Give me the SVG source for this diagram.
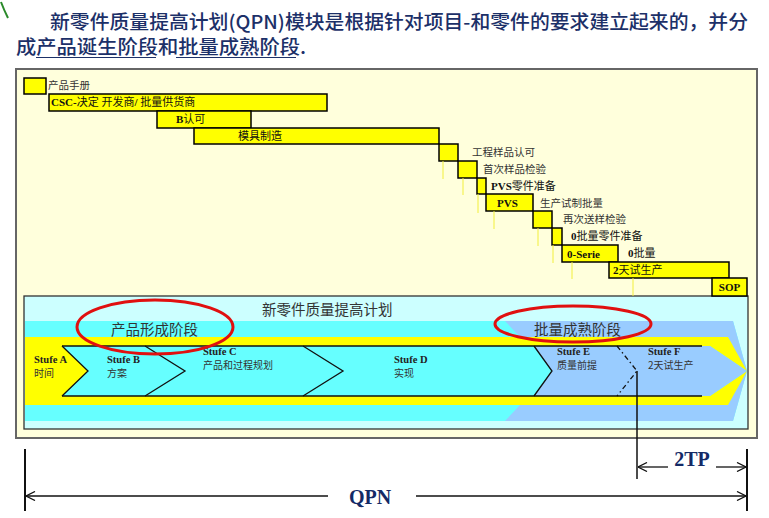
<svg xmlns="http://www.w3.org/2000/svg" width="769" height="518" viewBox="0 0 769 518">
<defs>
<style>
.hd{font-family:"Noto Sans CJK SC","Liberation Serif",serif;font-size:19px;font-weight:500;fill:#1c3068}
.bar{fill:#ffff00;stroke:#000;stroke-width:1.5}
.lbl{font-family:"Liberation Serif","Noto Sans CJK SC",serif;font-size:10.5px;fill:#333}
.lb{font-family:"Liberation Serif","Noto Sans CJK SC",serif;font-size:11px;fill:#111}
.b{font-weight:bold}
.tick{stroke:#f2ef3a;stroke-width:1}
.ph{font-family:"Noto Sans CJK SC",sans-serif;font-size:14.5px;fill:#333}
.st{font-family:"Liberation Serif","Noto Sans CJK SC",serif;font-size:10.5px;fill:#222}
.stc{font-family:"Noto Sans CJK SC",serif;font-size:10px;fill:#333}
.ell{fill:none;stroke:#e01010;stroke-width:3}
.dim{stroke:#111;stroke-width:1.3;fill:none}
.big{font-family:"Liberation Serif",serif;font-size:20px;font-weight:bold;fill:#142a66}
</style>
<marker id="ah" viewBox="0 0 10 10" refX="10" refY="5" markerWidth="10" markerHeight="10" markerUnits="userSpaceOnUse" orient="auto"><path d="M1,0.5 L10,5 L1,9.5" fill="none" stroke="#111" stroke-width="1.3"/></marker>
</defs>
<rect width="769" height="518" fill="#fff"/>
<path d="M1,2 Q4,10 8,18" stroke="#2a8a2a" stroke-width="2" fill="none"/>
<g id="header">
<text class="hd" x="50" y="29" textLength="698" lengthAdjust="spacingAndGlyphs">新零件质量提高计划(QPN)模块是根据针对项目-和零件的要求建立起来的，并分</text>
<text class="hd" x="16" y="54" textLength="290" lengthAdjust="spacingAndGlyphs">成产品诞生阶段和批量成熟阶段.</text>
<line x1="36" y1="57.5" x2="156" y2="57.5" stroke="#1c3068" stroke-width="1.2"/>
<line x1="176" y1="57.5" x2="296" y2="57.5" stroke="#1c3068" stroke-width="1.2"/>
</g>
<g id="frame">
<rect x="16" y="69" width="741" height="369" fill="#ffffdc" stroke="#666" stroke-width="2"/>
</g>
<g id="panel">
<rect x="24" y="296" width="724" height="133" fill="#ccffff" stroke="#333" stroke-width="1.3"/>
<polygon points="25,321 733,321 747,371 733,421 25,421" fill="#66ffff"/>
<polygon points="505,321 733,321 747,371 733,421 505,421 552,371" fill="#99ccff"/>
<polygon points="25,337 728,337 747,371 728,405 25,405" fill="#ffff00"/>
<polygon points="62,346 710,346 747,371 710,396 62,396 88,371" fill="#66ffff"/>
<polygon points="534,346 710,346 747,371 710,396 534,396 552,371" fill="#99ccff"/>
<text class="ph" x="262" y="315">新零件质量提高计划</text>
</g>
<g id="stufeA"><text class="st b" x="34" y="363">Stufe A</text><text class="stc" x="34" y="377">时间</text></g>
<g id="stufeB"><path d="M62,346 L88,371 L62,396" class="dim"/><text class="st b" x="107" y="363">Stufe B</text><text class="stc" x="107" y="377">方案</text></g>
<g id="stufeC"><path d="M145,346 L185,371 L145,396" class="dim"/><text class="st b" x="203" y="355">Stufe C</text><text class="stc" x="203" y="369">产品和过程规划</text></g>
<g id="stufeD"><path d="M303,346 L343,371 L303,396" class="dim"/><text class="st b" x="394" y="363">Stufe D</text><text class="stc" x="394" y="377">实现</text></g>
<g id="stufeE"><path d="M534,346 L552,371 L534,396" class="dim"/><text class="st b" x="557" y="355">Stufe E</text><text class="stc" x="557" y="369">质量前提</text></g>
<g id="stufeF"><path d="M617,346 L637,371 L617,396" class="dim" stroke-dasharray="5,3,1.5,3"/><text class="st b" x="648" y="355">Stufe F</text><text class="stc" x="648" y="369">2天试生产</text></g>
<g id="rails"><line x1="62" y1="346" x2="702" y2="346" class="dim"/><line x1="62" y1="396" x2="702" y2="396" class="dim"/></g>
<g id="phase1"><ellipse cx="155" cy="327" rx="78" ry="27" class="ell"/><text class="ph" x="111" y="335">产品形成阶段</text></g>
<g id="phase2"><ellipse cx="573" cy="324" rx="78" ry="18" class="ell"/><text class="ph" x="534" y="335">批量成熟阶段</text></g>
<g id="gantt">
<g id="g1"><rect class="bar" x="24" y="78" width="22" height="16"/><text class="lbl" x="48" y="89">产品手册</text></g>
<g id="g2"><rect class="bar" x="49" y="94" width="278" height="17"/><text class="lb" x="51" y="106"><tspan class="b">CSC-</tspan>决定 开发商<tspan class="b">/</tspan> 批量供货商</text></g>
<g id="g3"><rect class="bar" x="157" y="111" width="94" height="17"/><text class="lb" x="176" y="123"><tspan class="b">B</tspan>认可</text></g>
<g id="g4"><rect class="bar" x="194" y="128" width="245" height="16"/><text class="lb" x="238" y="140">模具制造</text></g>
<g id="g5"><rect class="bar" x="439" y="144" width="19" height="17"/><line class="tick" x1="443" y1="161" x2="443" y2="179"/><text class="lbl" x="472" y="156">工程样品认可</text></g>
<g id="g6"><rect class="bar" x="458" y="161" width="19" height="17"/><line class="tick" x1="463" y1="178" x2="463" y2="195"/><text class="lbl" x="483" y="173">首次样品检验</text></g>
<g id="g7"><rect class="bar" x="477" y="178" width="9" height="16"/><line class="tick" x1="478" y1="194" x2="478" y2="213"/><text class="lb" x="491" y="190"><tspan class="b">PVS</tspan>零件准备</text></g>
<g id="g8"><rect class="bar" x="486" y="194" width="47" height="17"/><line class="tick" x1="494" y1="211" x2="494" y2="229"/><text class="lb b" x="497" y="207">PVS</text><text class="lbl" x="540" y="207">生产试制批量</text></g>
<g id="g9"><rect class="bar" x="533" y="211" width="19" height="17"/><line class="tick" x1="538" y1="228" x2="538" y2="246"/><text class="lbl" x="563" y="223">再次送样检验</text></g>
<g id="g10"><rect class="bar" x="552" y="228" width="10" height="17"/><line class="tick" x1="553" y1="245" x2="553" y2="263"/><text class="lb" x="571" y="240"><tspan class="b">0</tspan>批量零件准备</text></g>
<g id="g11"><rect class="bar" x="562" y="245" width="56" height="17"/><line class="tick" x1="572" y1="262" x2="572" y2="279"/><text class="lb b" x="567" y="258">0-Serie</text><text class="lb" x="628" y="257"><tspan class="b">0</tspan>批量</text></g>
<g id="g12"><rect class="bar" x="609" y="262" width="120" height="16"/><line class="tick" x1="633" y1="278" x2="633" y2="296"/><text class="lb" x="613" y="274"><tspan class="b">2</tspan>天试生产</text></g>
<g id="g13"><rect class="bar" x="712" y="278" width="35" height="18"/><text class="lb b" x="729.5" y="291" text-anchor="middle">SOP</text></g>
</g>
<g id="connectors">
<line x1="637" y1="371" x2="637" y2="479" stroke="#111" stroke-width="1.5"/>
<line x1="25" y1="449" x2="25" y2="511" stroke="#111" stroke-width="2"/>
<line x1="747" y1="449" x2="747" y2="511" stroke="#111" stroke-width="2"/>
<line x1="328" y1="496" x2="26" y2="496" class="dim" marker-end="url(#ah)"/>
<line x1="416" y1="496" x2="746" y2="496" class="dim" marker-end="url(#ah)"/>
<line x1="668" y1="467" x2="638" y2="467" class="dim" marker-end="url(#ah)"/>
<line x1="716" y1="467" x2="746" y2="467" class="dim" marker-end="url(#ah)"/>
<text class="big" x="370" y="504" text-anchor="middle">QPN</text>
<text class="big" x="692" y="466" text-anchor="middle">2TP</text>
</g>
</svg>
